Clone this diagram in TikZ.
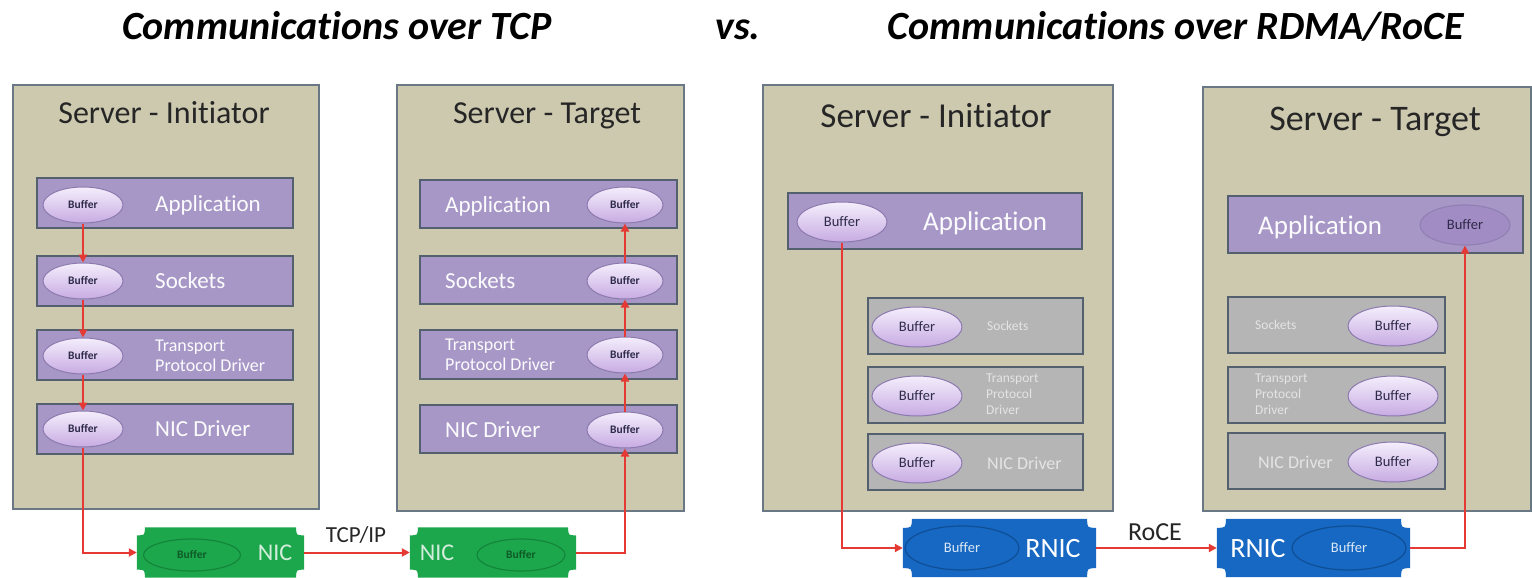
\documentclass[tikz,border=0pt]{standalone}
\usepackage{fontspec}
\setmainfont{Carlito}[Ligatures=NoCommon]
\usetikzlibrary{shapes.geometric,arrows.meta,calc}

\definecolor{panelfill}{HTML}{CDC9AF}
\definecolor{panelline}{HTML}{6A7886}
\definecolor{layerfill}{HTML}{A797C6}
\definecolor{layerline}{HTML}{55606E}
\definecolor{grayfill}{HTML}{B5B5B5}
\definecolor{graytext}{HTML}{E4E4E4}
\definecolor{bufhi}{HTML}{F4EEFC}
\definecolor{buflo}{HTML}{C7ABE2}
\definecolor{bufline}{HTML}{8C7AAE}
\definecolor{buftext}{HTML}{2E2A4A}
\definecolor{appbuf}{HTML}{A28CC4}
\definecolor{nicgreen}{HTML}{1DA74C}
\definecolor{nicgreendark}{HTML}{14863B}
\definecolor{nicgreentext}{HTML}{0E5A27}
\definecolor{rnicblue}{HTML}{1668C2}
\definecolor{rnicbluedark}{HTML}{0F4F96}
\definecolor{flowred}{HTML}{E43A33}

% rectangle with concave (scooped) corners, drawn over a named node
\newcommand\drawplaque[3]{%
  \fill[#3] ([xshift=#2]#1.north west) -- ([xshift=-#2]#1.north east)
    .. controls ([xshift=-#2,yshift=-#2]#1.north east) .. ([yshift=-#2]#1.north east)
    -- ([yshift=#2]#1.south east)
    .. controls ([xshift=-#2,yshift=#2]#1.south east) .. ([xshift=-#2]#1.south east)
    -- ([xshift=#2]#1.south west)
    .. controls ([xshift=#2,yshift=#2]#1.south west) .. ([yshift=#2]#1.south west)
    -- ([yshift=-#2]#1.north west)
    .. controls ([xshift=#2,yshift=-#2]#1.north west) .. cycle;}

\tikzset{
  fs/.style={font=\fontsize{#1}{#1}\selectfont},
  title/.style={anchor=base, font=\bfseries\itshape\fontsize{40}{42}\selectfont},
  panel/.style={draw=panelline, line width=2pt, fill=panelfill, inner sep=0, anchor=north west},
  paneltitle/.style={anchor=base, text=black!85},
  layer/.style={draw=layerline, line width=2pt, fill=layerfill, inner sep=0},
  glayer/.style={draw=layerline, line width=2pt, fill=grayfill, inner sep=0,
    minimum width=215pt, minimum height=56pt},
  ltext/.style={text=white!96!layerfill, inner sep=0, align=left},
  gtext/.style={text=graytext, inner sep=0, align=left},
  buf/.style={ellipse, draw=bufline, line width=1pt, top color=bufhi, bottom color=buflo,
    inner sep=0, text=buftext},
  tcpbuf/.style={buf, minimum width=#1, minimum height=36pt,
    font=\bfseries\fontsize{11.5}{12}\selectfont},
  rdmabuf/.style={buf, minimum width=90pt, minimum height=40pt,
    font=\fontsize{14.5}{15}\selectfont},
  card/.style={inner sep=0, draw=none},
  nicbuf/.style={ellipse, draw=nicgreendark, line width=1.2pt, fill=nicgreen, inner sep=0,
    minimum height=32pt, text=nicgreentext, font=\bfseries\fontsize{11.5}{12}\selectfont},
  rnicbuf/.style={ellipse, draw=rnicbluedark, line width=1.2pt, fill=rnicblue, inner sep=0,
    minimum width=114pt, minimum height=44pt, text=white!85!rnicblue,
    font=\fontsize{14.5}{15}\selectfont},
  flow/.style={draw=flowred, line width=2pt, -{Triangle[length=8pt,width=8pt]}},
}

\begin{document}
\begin{tikzpicture}[x=1pt, y=-1pt]
\useasboundingbox (0,0) rectangle (1532,578);

% headings
\node[title] (h1) at (337,40) {Communications over TCP};
\node[title] (h2) at (738,40) {vs.};
\node[title] (h3) at (1176,40) {Communications over RDMA/RoCE};

% ---------------- TCP: initiator ----------------
\node[panel, minimum width=306pt, minimum height=424pt] (p1) at (12,84) {};
\node[paneltitle, fs=32] (p1t) at (164,123) {Server - Initiator};

\node[layer, minimum width=256pt, minimum height=50pt] (a1) at (165,203) {};
\node[layer, minimum width=256pt, minimum height=50pt] (a2) at (165,280.5) {};
\node[layer, minimum width=256pt, minimum height=50pt] (a3) at (165,355) {};
\node[layer, minimum width=256pt, minimum height=50pt] (a4) at (165,428.5) {};
\node[ltext, fs=23, anchor=base west] (a1t) at (155,211) {Application};
\node[ltext, fs=23, anchor=base west] (a2t) at (155,288.5) {Sockets};
\node[ltext, anchor=west, font=\fontsize{18}{20}\selectfont] (a3t) at (155,356) {Transport\\Protocol Driver};
\node[ltext, fs=23, anchor=base west] (a4t) at (155,436.5) {NIC Driver};
\node[tcpbuf=80pt] (ab1) at (83,205) {Buffer};
\node[tcpbuf=80pt] (ab2) at (83,281) {Buffer};
\node[tcpbuf=80pt] (ab3) at (83,356) {Buffer};
\node[tcpbuf=80pt] (ab4) at (83,429) {Buffer};

% ---------------- TCP: target ----------------
\node[panel, minimum width=287pt, minimum height=426pt] (p2) at (396,84) {};
\node[paneltitle, fs=32] (p2t) at (547,123) {Server - Target};

\node[layer, minimum width=257pt, minimum height=48pt] (c1) at (548.5,204) {};
\node[layer, minimum width=257pt, minimum height=48pt] (c2) at (548.5,280) {};
\node[layer, minimum width=257pt, minimum height=49pt] (c3) at (548.5,354.5) {};
\node[layer, minimum width=257pt, minimum height=48pt] (c4) at (548.5,429) {};
\node[ltext, fs=23, anchor=base west] (c1t) at (445,212) {Application};
\node[ltext, fs=23, anchor=base west] (c2t) at (445,288) {Sockets};
\node[ltext, anchor=west, font=\fontsize{18}{20}\selectfont] (c3t) at (445,355) {Transport\\Protocol Driver};
\node[ltext, fs=23, anchor=base west] (c4t) at (445,437) {NIC Driver};
\node[tcpbuf=76pt] (cb1) at (625,205) {Buffer};
\node[tcpbuf=76pt] (cb2) at (625,281) {Buffer};
\node[tcpbuf=76pt] (cb3) at (625,355) {Buffer};
\node[tcpbuf=76pt] (cb4) at (625,430) {Buffer};

% ---------------- TCP: NICs ----------------
\node[card, minimum width=167pt, minimum height=50pt] (nic1) at (220.5,552.5) {};
\drawplaque{nic1}{8pt}{nicgreen}
\node[nicbuf, minimum width=97pt] (nb1) at (192,555) {Buffer};
\node[fs=24, text=white!80!nicgreen, inner sep=0] (nt1) at (275,553) {NIC};

\node[card, minimum width=166pt, minimum height=50pt] (nic2) at (493,552.5) {};
\drawplaque{nic2}{8pt}{nicgreen}
\node[nicbuf, minimum width=88pt] (nb2) at (521,555) {Buffer};
\node[fs=24, text=white!80!nicgreen, inner sep=0] (nt2) at (437,553) {NIC};

\node[fs=23, inner sep=0, text=black!85] (tcpip) at (356,535) {TCP/IP};

% TCP data path
\draw[flow] (ab1.south) -- (ab2.north);
\draw[flow] (ab2.south) -- (ab3.north);
\draw[flow] (ab3.south) -- (ab4.north);
\draw[flow] (ab4.south) |- (nic1.west);
\draw[flow] (nic1.east) -- (nic2.west);
\draw[flow] (nic2.east) -| (cb4.south);
\draw[flow] (cb4.north) -- (cb3.south);
\draw[flow] (cb3.north) -- (cb2.south);
\draw[flow] (cb2.north) -- (cb1.south);

% ---------------- RDMA: initiator ----------------
\node[panel, minimum width=350pt, minimum height=426pt] (p3) at (762,84) {};
\node[paneltitle, fs=35] (p3t) at (936,127) {Server - Initiator};

\node[layer, minimum width=294pt, minimum height=56pt] (r1) at (935,221) {};
\node[ltext, fs=27, anchor=base west] (r1t) at (923,230) {Application};
\node[rdmabuf] (rb1) at (842,222) {Buffer};

\node[glayer] (r2) at (975.5,325.5) {};
\node[glayer] (r3) at (975.5,395) {};
\node[glayer] (r4) at (975.5,462) {};
\node[gtext, anchor=west, font=\fontsize{13.5}{16}\selectfont] (r2t) at (987,325.5) {Sockets};
\node[gtext, anchor=west, font=\fontsize{13.5}{16}\selectfont] (r3t) at (986,394) {Transport\\Protocol\\Driver};
\node[gtext, anchor=west, font=\fontsize{18}{20}\selectfont] (r4t) at (987,463) {NIC Driver};
\node[rdmabuf] (rb2) at (917,327) {Buffer};
\node[rdmabuf] (rb3) at (917,396) {Buffer};
\node[rdmabuf] (rb4) at (917,463) {Buffer};

% ---------------- RDMA: target ----------------
\node[panel, minimum width=328pt, minimum height=424pt] (p4) at (1202,86) {};
\node[paneltitle, fs=36] (p4t) at (1375,130) {Server - Target};

\node[layer, minimum width=295pt, minimum height=57pt] (s1) at (1375.5,224.5) {};
\node[ltext, fs=27, anchor=base west] (s1t) at (1258,234) {Application};
\node[ellipse, draw=bufline!80!layerfill, line width=1.2pt, fill=appbuf, inner sep=0,
  minimum width=90pt, minimum height=40pt, text=buftext,
  font=\fontsize{14.5}{15}\selectfont] (sb1) at (1465,225) {Buffer};

\node[glayer, minimum width=217pt] (s2) at (1336.5,325) {};
\node[glayer, minimum width=217pt] (s3) at (1336.5,395) {};
\node[glayer, minimum width=217pt] (s4) at (1336.5,461) {};
\node[gtext, anchor=west, font=\fontsize{13.5}{16}\selectfont] (s2t) at (1255,325) {Sockets};
\node[gtext, anchor=west, font=\fontsize{13.5}{16}\selectfont] (s3t) at (1255,394) {Transport\\Protocol\\Driver};
\node[gtext, anchor=west, font=\fontsize{18}{20}\selectfont] (s4t) at (1258,462) {NIC Driver};
\node[rdmabuf] (sb2) at (1393,326) {Buffer};
\node[rdmabuf] (sb3) at (1393,396) {Buffer};
\node[rdmabuf] (sb4) at (1393,462) {Buffer};

% ---------------- RDMA: RNICs ----------------
\node[card, minimum width=193pt, minimum height=58pt] (rnic1) at (999.5,548) {};
\drawplaque{rnic1}{9pt}{rnicblue}
\node[rnicbuf] (rnb1) at (962,548) {Buffer};
\node[fs=28, text=white, inner sep=0] (rnt1) at (1053,549) {RNIC};

\node[card, minimum width=193pt, minimum height=58pt] (rnic2) at (1313.5,548) {};
\drawplaque{rnic2}{9pt}{rnicblue}
\node[rnicbuf] (rnb2) at (1349,548) {Buffer};
\node[fs=28, text=white, inner sep=0] (rnt2) at (1258,549) {RNIC};

\node[fs=26, inner sep=0, text=black!85] (roce) at (1155,532) {RoCE};

% RDMA data path
\draw[flow] (rb1.south) |- (rnic1.west);
\draw[flow] (rnic1.east) -- (rnic2.west);
\draw[flow] (rnic2.east) -| (sb1.south);
\end{tikzpicture}
\end{document}
